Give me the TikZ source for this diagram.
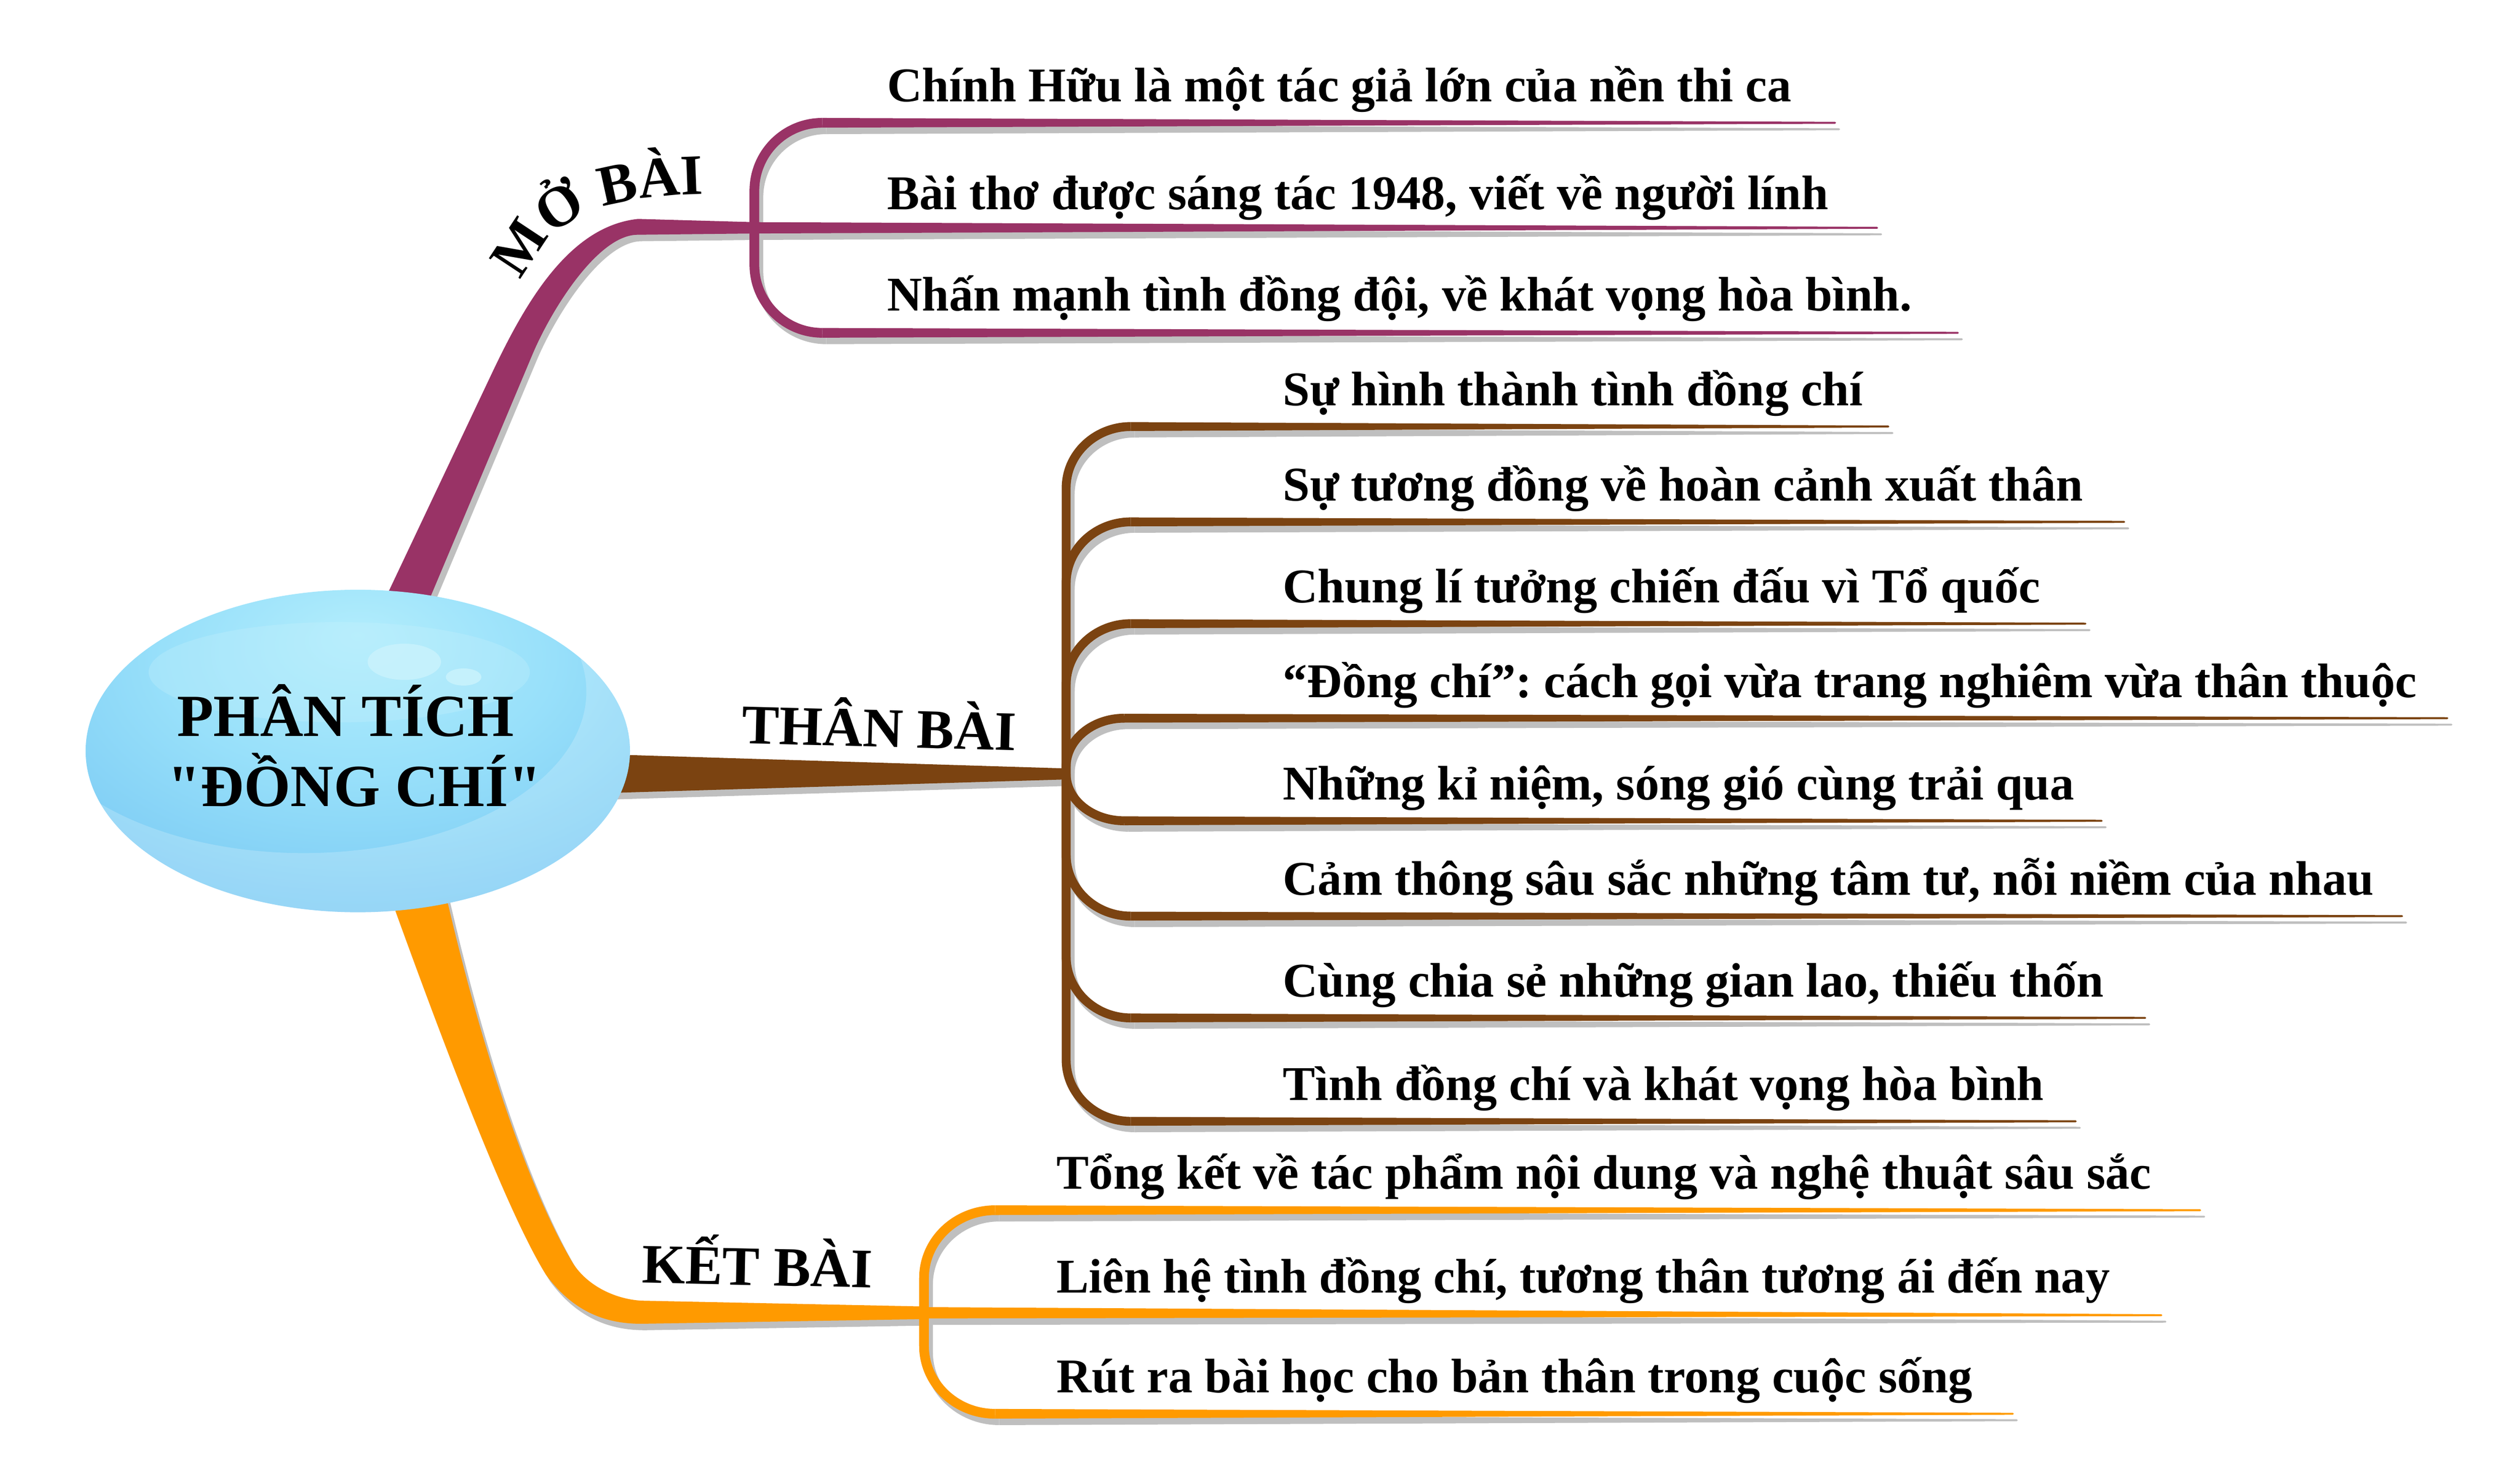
\documentclass[tikz,border=0pt]{standalone}
\usepackage{fontspec}
\setmainfont{Liberation Serif}[Ligatures=TeXOff]
\usetikzlibrary{calc,shapes.geometric,decorations.text}
\frenchspacing
\definecolor{mopurple}{HTML}{993366}
\definecolor{thanbrown}{HTML}{7B4311}
\definecolor{ketorange}{HTML}{FF9A00}
\definecolor{shadowgray}{HTML}{BFBFBF}
\definecolor{bubA}{HTML}{B2EDFC}
\definecolor{bubB}{HTML}{98E0FA}
\definecolor{bubC}{HTML}{7CCBF4}
\definecolor{bubD}{HTML}{60A8EC}
\definecolor{bubE}{HTML}{4A8DE2}
\definecolor{bubHi}{HTML}{C8F2FD}
\pgfdeclareradialshading{bubbleshade}{\pgfpoint{0bp}{18bp}}{color(0bp)=(bubA); color(18bp)=(bubB); color(36bp)=(bubC); color(52bp)=(bubD); color(64bp)=(bubE); color(90bp)=(bubE)}
\newcommand\leaffont{\fontsize{30}{36}\selectfont\bfseries}
\newcommand\labfont{\fontsize{34.5}{40}\selectfont\bfseries}
\newcommand\mofont{\fontsize{35.5}{40}\selectfont\bfseries}
\newcommand\hubfont{\fontsize{37}{43}\selectfont\bfseries}
% leaf connector: colour, junction, leaf start, leaf end, signed vertical radius, horizontal radius, width
\newcommand\leafbranch[7]{%
  \draw[#1, line width=#7pt] (#2) -- ($(#2|-#3)+(0,#5)$) .. controls ($(#2|-#3)+(0,{0.448*(#5)})$) and ($(#2|-#3)+({0.448*(#6)},0)$) .. (#3);
  \fill[#1] ($(#3)+(0,-#7/2)$) -- ($(#4)+(0,-0.6)$) -- ($(#4)+(0.6,0)$) -- ($(#4)+(0,0.6)$) -- ($(#3)+(0,#7/2)$) -- cycle;}
% straight leaf: colour, junction, leaf end, width
\newcommand\leafstraight[4]{%
  \fill[#1] ($(#2)+(0,-#4/2)$) -- ($(#3)+(0,-0.6)$) -- ($(#3)+(0.6,0)$) -- ($(#3)+(0,0.6)$) -- ($(#2)+(0,#4/2)$) -- cycle;}
\newcommand\treeshapes{%
  % main branch: MO BAI
  \fill[cMo] (234,380) -- (305,230) .. controls (325,188) and (352,140) .. (395,135.5) -- ($(jMo)+(0,-3.5)$) -- ($(jMo)+(0,3.5)$) -- (394.5,145.3) .. controls (370,145.5) and (341.2,191.8) .. (329.6,219.4) -- (262,380) -- cycle;
  % main branch: THAN BAI
  \fill[cThan] (370,466.7) -- ($(jThan)+(0,-3.4)$) -- ($(jThan)+(0,3.4)$) -- (370,491) -- cycle;
  % main branch: KET BAI
  \fill[cKet] (238,545) .. controls (290,690) and (320,760) .. (338,789) .. controls (355,812) and (375,819.3) .. (397,819.3) -- ($(jKet)+(0,3.9)$) -- ($(jKet)+(0,-3.9)$) -- (397,805) .. controls (380,804) and (362,795) .. (353.6,780) .. controls (330,740) and (300,660) .. (274,545) -- cycle;
  % leaves
  \leafbranch{cMo}{jMo}{m1s}{m1e}{42}{42}{6}
  \leafstraight{cMo}{jMo}{m2e}{7}
  \leafbranch{cMo}{jMo}{m3s}{m3e}{-42}{42}{6}
  \leafbranch{cThan}{jThan}{t1s}{t1e}{38}{40}{5.5}
  \leafbranch{cThan}{jThan}{t2s}{t2e}{38}{40}{5.5}
  \leafbranch{cThan}{jThan}{t3s}{t3e}{38}{40}{5.5}
  \leafbranch{cThan}{jThan}{t4s}{t4e}{30}{36}{5.5}
  \leafbranch{cThan}{jThan}{t5s}{t5e}{-29}{36}{5.5}
  \leafbranch{cThan}{jThan}{t6s}{t6e}{-38}{40}{5.5}
  \leafbranch{cThan}{jThan}{t7s}{t7e}{-38}{40}{5.5}
  \leafbranch{cThan}{jThan}{t8s}{t8e}{-38}{40}{5.5}
  \leafbranch{cKet}{jKet}{k1s}{k1e}{42}{44}{6}
  \leafstraight{cKet}{jKet}{k2e}{7}
  \leafbranch{cKet}{jKet}{k3s}{k3e}{-42}{44}{6}
}
\begin{document}
\begin{tikzpicture}[x=1pt,y=-1pt,
  leaftext/.style={anchor=base west, inner sep=0pt, font=\leaffont},
  labeltext/.style={anchor=base west, inner sep=0pt, font=\labfont},
  hubtext/.style={anchor=base, inner sep=0pt, font=\hubfont},
  hubshape/.style={ellipse, minimum width=337pt, minimum height=199.6pt, inner sep=0pt}]
\useasboundingbox (0,0) rectangle (1560,911.6);
% hub and junctions
\node[hubshape] (hub) at (221.5,464.8) {};
\coordinate (jMo) at (467,141);
\coordinate (jThan) at (660,479);
\coordinate (jKet) at (572,812.5);
% leaf line coordinates
\coordinate (m1s) at (509,76);    \coordinate (m1e) at (1136,76);
\coordinate (m2e) at (1162,141);
\coordinate (m3s) at (509,206);   \coordinate (m3e) at (1212,206);
\coordinate (t1s) at (700,264);   \coordinate (t1e) at (1169,264);
\coordinate (t2s) at (700,323);   \coordinate (t2e) at (1315,323);
\coordinate (t3s) at (700,386);   \coordinate (t3e) at (1291,386);
\coordinate (t4s) at (696,444.5); \coordinate (t4e) at (1515,444.5);
\coordinate (t5s) at (696,508);   \coordinate (t5e) at (1301,508);
\coordinate (t6s) at (700,567);   \coordinate (t6e) at (1487,567);
\coordinate (t7s) at (700,630);   \coordinate (t7e) at (1328,630);
\coordinate (t8s) at (700,694);   \coordinate (t8e) at (1285,694);
\coordinate (k1s) at (616,749);   \coordinate (k1e) at (1362,749);
\coordinate (k2e) at (1338,814);
\coordinate (k3s) at (616,875);   \coordinate (k3e) at (1246,875);
% shadows
\begin{scope}[transform canvas={shift={(2.5,4)}}]
  \colorlet{cMo}{shadowgray}\colorlet{cThan}{shadowgray}\colorlet{cKet}{shadowgray}
  \treeshapes
\end{scope}
% coloured branches
\colorlet{cMo}{mopurple}\colorlet{cThan}{thanbrown}\colorlet{cKet}{ketorange}
\treeshapes
% central bubble
\shade[shading=bubbleshade] (hub.center) ellipse [x radius=168.5, y radius=99.8];
\begin{scope}
  \clip (hub.center) ellipse [x radius=168.5, y radius=99.8];
  \fill[white, opacity=0.2, even odd rule] (hub.center) ellipse [x radius=168.5, y radius=99.8] (188,428) ellipse [x radius=175, y radius=100];
  \fill[bubHi, opacity=0.3] (210,416) ellipse [x radius=118, y radius=31];
  \fill[bubHi, opacity=0.9] (250.3,409.6) ellipse [x radius=22.7, y radius=11.2];
  \fill[bubHi, opacity=0.9] (287,419) ellipse [x radius=11, y radius=5.3];
\end{scope}
\node[hubtext] (hub1) at (214,455.6) {PHÂN TÍCH};
\node[hubtext] (hub2) at (219.5,499) {"ĐỒNG CHÍ"};
% branch labels
\path[decorate, decoration={text along path, text={|\mofont|MỞ BÀI}, text align=left}] (323,174) .. controls (342,135) and (367,120) .. (450,120);
\node[labeltext, rotate=-1.5] (lThan) at (459,460) {THÂN BÀI};
\node[labeltext, rotate=-1.2] (lKet) at (397,794) {KẾT BÀI};
% leaf texts
\node[leaftext] (m1) at (549,63) {Chính Hữu là một tác giả lớn của nền thi ca};
\node[leaftext] (m2) at (549,129.5) {Bài thơ được sáng tác 1948, viết về người lính};
\node[leaftext] (m3) at (549,192.5) {Nhấn mạnh tình đồng đội, về khát vọng hòa bình.};
\node[leaftext] (t1) at (794,251) {Sự hình thành tình đồng chí};
\node[leaftext] (t2) at (794,310) {Sự tương đồng về hoàn cảnh xuất thân};
\node[leaftext] (t3) at (794,373) {Chung lí tưởng chiến đấu vì Tổ quốc};
\node[leaftext] (t4) at (794,431.5) {“Đồng chí”: cách gọi vừa trang nghiêm vừa thân thuộc};
\node[leaftext] (t5) at (794,495) {Những kỉ niệm, sóng gió cùng trải qua};
\node[leaftext] (t6) at (794,554) {Cảm thông sâu sắc những tâm tư, nỗi niềm của nhau};
\node[leaftext] (t7) at (794,617) {Cùng chia sẻ những gian lao, thiếu thốn};
\node[leaftext] (t8) at (794,681) {Tình đồng chí và khát vọng hòa bình};
\node[leaftext] (k1) at (654,736) {Tổng kết về tác phẩm nội dung và nghệ thuật sâu sắc};
\node[leaftext] (k2) at (654,800) {Liên hệ tình đồng chí, tương thân tương ái đến nay};
\node[leaftext] (k3) at (654,862) {Rút ra bài học cho bản thân trong cuộc sống};
\end{tikzpicture}
\end{document}
